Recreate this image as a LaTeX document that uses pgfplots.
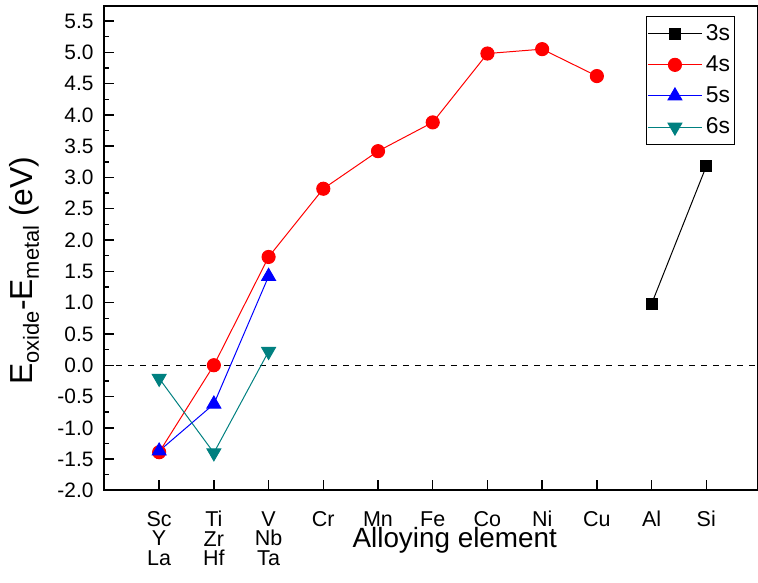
\documentclass[border=0pt]{standalone}
\usepackage{fontspec}
\setmainfont{Liberation Sans}
\usepackage{pgfplots}
\pgfplotsset{compat=1.18}
\definecolor{tealc}{RGB}{0,128,128}
\newcommand{\sub}[1]{\raisebox{-0.38ex}{\fontsize{11}{12}\selectfont #1}}
\begin{document}
\begin{tikzpicture}
\begin{axis}[
  scale only axis,
  width=328.5pt, height=243.5pt,
  xmin=0, xmax=11.945, ymin=-2, ymax=5.74,
  axis line style={line width=1pt},
  tick align=inside,
  xtick pos=bottom, ytick pos=left,
  xtick={1,...,11},
  xticklabels={{Sc\\Y\\La},{Ti\\Zr\\Hf},{V\\Nb\\Ta},Cr,Mn,Fe,Co,Ni,Cu,Al,Si},
  xticklabel style={align=center, font=\fontsize{10.8}{9.8}\selectfont, yshift=-7pt},
  ytick={-2,-1.5,...,5.5},
  minor y tick num=1,
  major tick length=5pt, minor tick length=2.5pt,
  tick style={line width=0.7pt, black},
  /pgf/number format/assume math mode=true,
  yticklabel style={/pgf/number format/.cd, fixed, fixed zerofill, precision=1, /tikz/.cd, font=\fontsize{10.5}{12}\selectfont, xshift=-2pt},
  xlabel={Alloying element},
  xlabel style={at={(axis description cs:0.536,-0.118)}, anchor=base, font=\fontsize{14}{16}\selectfont},
  ylabel={E\sub{oxide}-E\sub{metal} (eV)},
  ylabel style={at={(axis description cs:-0.11,0.454)}, anchor=base, font=\fontsize{16}{18}\selectfont},
  legend style={at={(axis description cs:0.965,0.979)}, anchor=north east, draw=black, line width=0.5pt,
    font=\fontsize{11.5}{13}\selectfont, row sep=2.6pt, inner xsep=0.5pt, inner ysep=2pt,
    nodes={inner xsep=1.8pt, inner ysep=1.8pt}},
  legend cell align=left,
  legend image code/.code={\draw[mark repeat=2,mark phase=2] plot coordinates {(0pt,0pt)(13.5pt,0pt)(27pt,0pt)};},
]
\draw[dashed, line width=0.5pt] (axis cs:0,0) -- (axis cs:11.945,0);
\addplot[black, line width=0.5pt, mark=square*, mark size=2.75pt, mark options={solid}] coordinates {(10,0.98) (11,3.18)};
\addlegendentry{3s}
\addplot[red, line width=0.5pt, mark=*, mark size=3.3pt] coordinates {(1,-1.39) (2,0.0) (3,1.73) (4,2.82) (5,3.42) (6,3.88) (7,4.98) (8,5.05) (9,4.62)};
\addlegendentry{4s}
\addplot[blue, line width=0.5pt, mark=triangle*, mark size=4pt] coordinates {(1,-1.37) (2,-0.62) (3,1.42)};
\addlegendentry{5s}
\addplot[tealc, line width=0.5pt, mark=triangle*, mark size=4pt, mark options={rotate=180}] coordinates {(1,-0.21) (2,-1.40) (3,0.22)};
\addlegendentry{6s}
\end{axis}
\pgfresetboundingbox
\path (current axis.south west) ++(-52.5pt,-46.5pt) -- (current axis.north east) ++(-2pt,3pt);
\end{tikzpicture}
\end{document}
